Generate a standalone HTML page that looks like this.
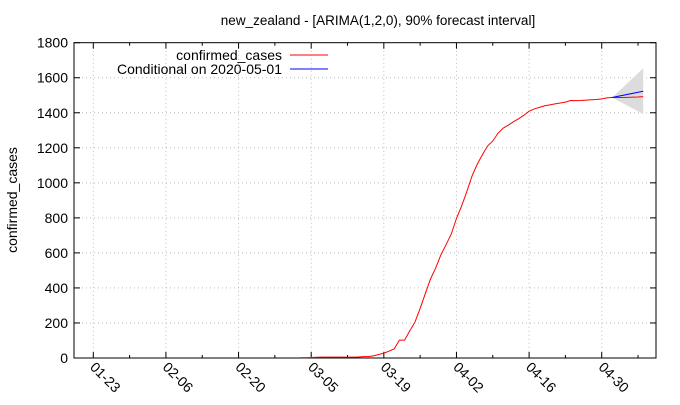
<!DOCTYPE html>
<html><head><meta charset="utf-8"><style>
body{margin:0;background:#fff}
svg text{font-family:"Liberation Sans",sans-serif;font-size:14px;fill:#000}
</style></head><body>
<svg id="chart" width="680" height="400" xmlns="http://www.w3.org/2000/svg">
<rect width="680" height="400" fill="#fff"/>
<text x="378" y="25" text-anchor="middle" style="font-size:13.5px">new_zealand -  [ARIMA(1,2,0), 90% forecast interval]</text>
<text transform="translate(17,200) rotate(-90)" text-anchor="middle">confirmed_cases</text>
<g id="grid"></g><g id="axes"></g><g id="marks"></g>
<g>
<text x="282" y="60" text-anchor="end">confirmed_cases</text>
<line x1="290" y1="55" x2="328" y2="55" stroke="#f00"/>
<text x="282" y="74" text-anchor="end">Conditional on 2020-05-01</text>
<line x1="290" y1="69" x2="328" y2="69" stroke="#00f"/>
</g>
</svg>
<script>
const yTicks=[0,200,400,600,800,1000,1200,1400,1600,1800];
const xTickLabels=["01-23","02-06","02-20","03-05","03-19","04-02","04-16","04-30"];
const xTickDays=[0,14,28,42,56,70,84,98];
const caseStartDay=40;
const cases=[2,2,3,4,5,5,5,5,5,5,5,6,8,8,12,20,28,39,52,102,102,155,205,283,368,451,514,589,647,708,797,868,950,1039,1106,1160,1210,1239,1283,1312,1330,1349,1366,1386,1409,1422,1431,1440,1445,1451,1456,1461,1470,1469,1470,1472,1474,1476,1479,1485,1487,1487,1487,1488,1489,1490,1492];
const fcDays=[100,106];
const fcMean=[1487,1523];
const fcLow=[1487,1392];
const fcHigh=[1487,1654];
const L=74,R=656,T=42.7,B=358,x0=93.3,pxDay=5.188;
const X=d=>x0+d*pxDay, Y=v=>B-(v/1800)*(B-T);
const NS="http://www.w3.org/2000/svg";
function mk(tag,attrs,parent){const e=document.createElementNS(NS,tag);for(const k in attrs)e.setAttribute(k,attrs[k]);document.getElementById(parent).appendChild(e);return e;}
yTicks.forEach(v=>{
  if(v>0&&v<1800){const g=mk('line',{x1:L,x2:R,y1:Y(v),y2:Y(v),stroke:'#bbb','stroke-dasharray':'1,3'},'grid');
  
  }
  const t=mk('line',{x1:L,x2:L+6,y1:Y(v),y2:Y(v),stroke:'#000'},'axes');
  
  
  const t2=mk('line',{x1:R,x2:R-6,y1:Y(v),y2:Y(v),stroke:'#000'},'axes');
  
  
  const lb=mk('text',{x:L-6,y:Y(v)+5,'text-anchor':'end'},'axes');lb.textContent=v;
  
  
});
xTickDays.forEach((d,i)=>{
  const x=X(d);
  const g=mk('line',{x1:x,x2:x,y1:T,y2:B,stroke:'#bbb','stroke-dasharray':'1,3'},'grid');
  
  
  [d,d+7].forEach(dd=>{const xx=X(dd);if(xx>R)return;const len=dd===d?6:3;
    const t=mk('line',{x1:xx,x2:xx,y1:B,y2:B-len,stroke:'#000'},'axes');
    
    
    const t2=mk('line',{x1:xx,x2:xx,y1:T,y2:T+len,stroke:'#000'},'axes');
    
    });
  const lb=mk('text',{transform:`translate(${x-4},${B+10}) rotate(45)`},'axes');lb.textContent=xTickLabels[i];
  
  
});
const frame=mk('rect',{x:L,y:T,width:R-L,height:B-T,fill:'none',stroke:'#000'},'axes');


let bp=fcDays.map((d,i)=>X(d)+','+Y(fcHigh[i])).concat(fcDays.slice().reverse().map((d,j)=>{const i=fcDays.length-1-j;return X(d)+','+Y(fcLow[i]);}));
const band=mk('polygon',{points:bp.join(' '),fill:'#dcdcdc'},'marks');


const cl=mk('polyline',{points:cases.map((v,i)=>X(caseStartDay+i)+','+Y(v)).join(' '),fill:'none',stroke:'#f00','stroke-width':1},'marks');


const fl=mk('polyline',{points:fcDays.map((d,i)=>X(d)+','+Y(fcMean[i])).join(' '),fill:'none',stroke:'#00f','stroke-width':1},'marks');


</script>
</body></html>
